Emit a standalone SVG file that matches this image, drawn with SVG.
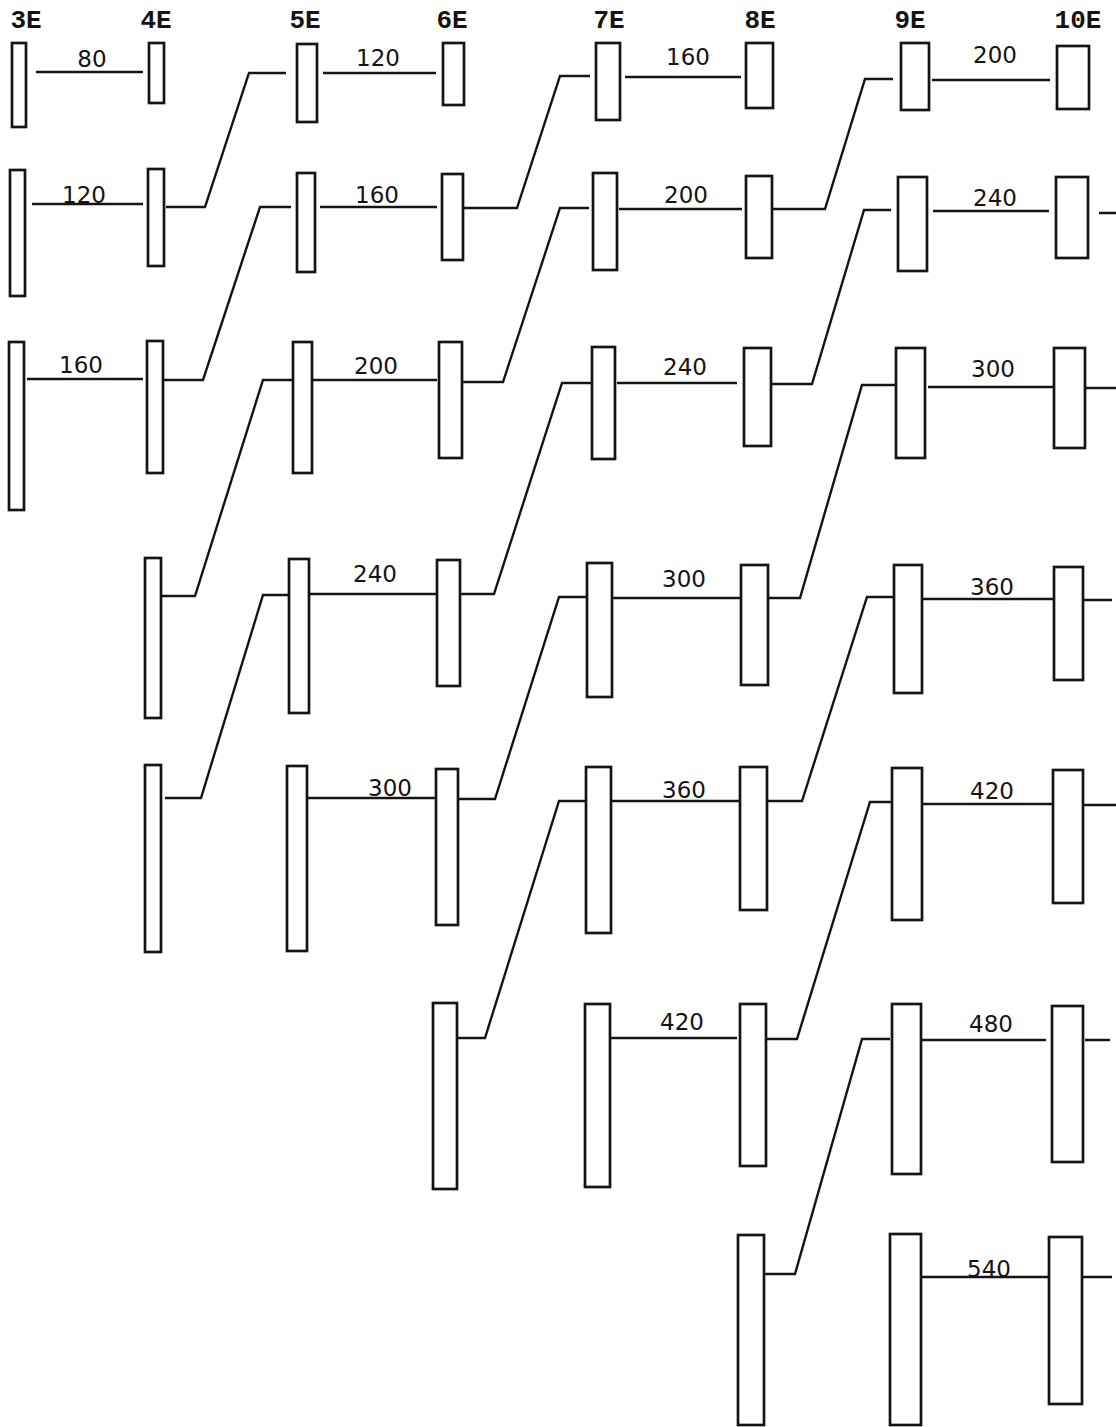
<svg xmlns="http://www.w3.org/2000/svg" width="1116" height="1427" viewBox="0 0 1116 1427">
<style>
.bg{fill:#fff}
.box{fill:#fff;stroke:#141414;stroke-width:2.7}
.ln{fill:none;stroke:#141414;stroke-width:2.4;stroke-linejoin:miter}
.col{font-family:"Liberation Mono","DejaVu Sans Mono",monospace;font-size:26px;font-weight:bold;fill:#141414;text-anchor:middle}
.num{font-family:"DejaVu Sans","Liberation Sans",sans-serif;font-size:23px;fill:#141414;text-anchor:middle}
</style>
<rect class="bg" x="0" y="0" width="1116" height="1427"/>
<g id="headers">
<text class="col" x="26" y="28">3E</text>
<text class="col" x="156" y="28">4E</text>
<text class="col" x="305" y="28">5E</text>
<text class="col" x="452" y="28">6E</text>
<text class="col" x="609" y="28">7E</text>
<text class="col" x="760" y="28">8E</text>
<text class="col" x="910" y="28">9E</text>
<text class="col" x="1078" y="28">10E</text>
</g>
<g id="connectors">
<g id="e-row1"><path class="ln" d="M36 72H143M323 73H436M625 77H741M932 80H1050"/>
<text class="num" x="92" y="67">80</text><text class="num" x="378" y="66">120</text><text class="num" x="688" y="65">160</text><text class="num" x="995" y="63">200</text></g>
<g id="e-row2"><path class="ln" d="M32 204H143M320 207H437M619 209H742M933 211H1049M1099 213H1116"/>
<text class="num" x="84" y="203">120</text><text class="num" x="377" y="203">160</text><text class="num" x="686" y="203">200</text><text class="num" x="995" y="206">240</text></g>
<g id="e-row3"><path class="ln" d="M27 379H143M313 380H437M617 383H737M928 387H1055M1085 388H1116"/>
<text class="num" x="81" y="373">160</text><text class="num" x="376" y="374">200</text><text class="num" x="685" y="375">240</text><text class="num" x="993" y="377">300</text></g>
<g id="e-row4"><path class="ln" d="M310 594H437M612 598H741M922 599H1053M1083 600H1112"/>
<text class="num" x="375" y="582">240</text><text class="num" x="684" y="587">300</text><text class="num" x="992" y="595">360</text></g>
<g id="e-row5"><path class="ln" d="M307 798H436M611 801H740M922 804H1052M1083 805H1116"/>
<text class="num" x="390" y="796">300</text><text class="num" x="684" y="798">360</text><text class="num" x="992" y="799">420</text></g>
<g id="e-row6"><path class="ln" d="M610 1038H737M921 1040H1046M1085 1040H1110"/>
<text class="num" x="682" y="1030">420</text><text class="num" x="991" y="1032">480</text></g>
<g id="e-row7"><path class="ln" d="M921 1277H1049M1083 1277H1112"/>
<text class="num" x="989" y="1277">540</text></g>
<g id="e-diagonals">
<polyline class="ln" points="166,207 205,207 249,73 286,73"/>
<polyline class="ln" points="163,380 203,380 260,207 291,207"/>
<polyline class="ln" points="161,596 195,596 263,380 292,380"/>
<polyline class="ln" points="165,798 201,798 263,595 289,595"/>
<polyline class="ln" points="464,208 517,208 560,76 590,76"/>
<polyline class="ln" points="462,382 503,382 560,208 589,208"/>
<polyline class="ln" points="460,594 494,594 562,383 592,383"/>
<polyline class="ln" points="458,799 495,799 559,597 587,597"/>
<polyline class="ln" points="458,1038 485,1038 559,801 586,801"/>
<polyline class="ln" points="773,209 825,209 865,79 893,79"/>
<polyline class="ln" points="772,384 812,384 864,210 891,210"/>
<polyline class="ln" points="768,598 800,598 862,385 896,385"/>
<polyline class="ln" points="767,801 802,801 867,597 894,597"/>
<polyline class="ln" points="766,1039 797,1039 870,802 892,802"/>
<polyline class="ln" points="764,1274 795,1274 862,1039 890,1039"/>
</g>
</g>
<g id="n-3E-1"><rect class="box" x="12" y="43" width="14" height="84"/></g>
<g id="n-3E-2"><rect class="box" x="10" y="170" width="15" height="126"/></g>
<g id="n-3E-3"><rect class="box" x="9" y="342" width="15" height="168"/></g>
<g id="n-4E-1"><rect class="box" x="149" y="43" width="15" height="60"/></g>
<g id="n-4E-2"><rect class="box" x="148" y="169" width="16" height="97"/></g>
<g id="n-4E-3"><rect class="box" x="147" y="341" width="16" height="132"/></g>
<g id="n-4E-4"><rect class="box" x="145" y="558" width="16" height="160"/></g>
<g id="n-4E-5"><rect class="box" x="145" y="765" width="16" height="187"/></g>
<g id="n-5E-1"><rect class="box" x="297" y="44" width="20" height="78"/></g>
<g id="n-5E-2"><rect class="box" x="297" y="173" width="18" height="99"/></g>
<g id="n-5E-3"><rect class="box" x="293" y="342" width="19" height="131"/></g>
<g id="n-5E-4"><rect class="box" x="289" y="559" width="20" height="154"/></g>
<g id="n-5E-5"><rect class="box" x="287" y="766" width="20" height="185"/></g>
<g id="n-6E-1"><rect class="box" x="443" y="43" width="21" height="62"/></g>
<g id="n-6E-2"><rect class="box" x="442" y="174" width="21" height="86"/></g>
<g id="n-6E-3"><rect class="box" x="439" y="342" width="23" height="116"/></g>
<g id="n-6E-4"><rect class="box" x="437" y="560" width="23" height="126"/></g>
<g id="n-6E-5"><rect class="box" x="436" y="769" width="22" height="156"/></g>
<g id="n-6E-6"><rect class="box" x="433" y="1003" width="24" height="186"/></g>
<g id="n-7E-1"><rect class="box" x="596" y="43" width="24" height="77"/></g>
<g id="n-7E-2"><rect class="box" x="593" y="173" width="24" height="97"/></g>
<g id="n-7E-3"><rect class="box" x="592" y="347" width="23" height="112"/></g>
<g id="n-7E-4"><rect class="box" x="587" y="563" width="25" height="134"/></g>
<g id="n-7E-5"><rect class="box" x="586" y="767" width="25" height="166"/></g>
<g id="n-7E-6"><rect class="box" x="585" y="1004" width="25" height="183"/></g>
<g id="n-8E-1"><rect class="box" x="746" y="43" width="27" height="65"/></g>
<g id="n-8E-2"><rect class="box" x="746" y="176" width="26" height="82"/></g>
<g id="n-8E-3"><rect class="box" x="744" y="348" width="27" height="98"/></g>
<g id="n-8E-4"><rect class="box" x="741" y="565" width="27" height="120"/></g>
<g id="n-8E-5"><rect class="box" x="740" y="767" width="27" height="143"/></g>
<g id="n-8E-6"><rect class="box" x="740" y="1004" width="26" height="162"/></g>
<g id="n-8E-7"><rect class="box" x="738" y="1235" width="26" height="190"/></g>
<g id="n-9E-1"><rect class="box" x="901" y="43" width="28" height="67"/></g>
<g id="n-9E-2"><rect class="box" x="898" y="177" width="29" height="94"/></g>
<g id="n-9E-3"><rect class="box" x="896" y="348" width="29" height="110"/></g>
<g id="n-9E-4"><rect class="box" x="894" y="565" width="28" height="128"/></g>
<g id="n-9E-5"><rect class="box" x="892" y="768" width="30" height="152"/></g>
<g id="n-9E-6"><rect class="box" x="892" y="1004" width="29" height="170"/></g>
<g id="n-9E-7"><rect class="box" x="890" y="1234" width="31" height="191"/></g>
<g id="n-10E-1"><rect class="box" x="1057" y="46" width="32" height="63"/></g>
<g id="n-10E-2"><rect class="box" x="1056" y="177" width="32" height="81"/></g>
<g id="n-10E-3"><rect class="box" x="1054" y="348" width="31" height="100"/></g>
<g id="n-10E-4"><rect class="box" x="1054" y="567" width="29" height="113"/></g>
<g id="n-10E-5"><rect class="box" x="1053" y="770" width="30" height="133"/></g>
<g id="n-10E-6"><rect class="box" x="1052" y="1006" width="31" height="156"/></g>
<g id="n-10E-7"><rect class="box" x="1049" y="1237" width="33" height="167"/></g>
</svg>
